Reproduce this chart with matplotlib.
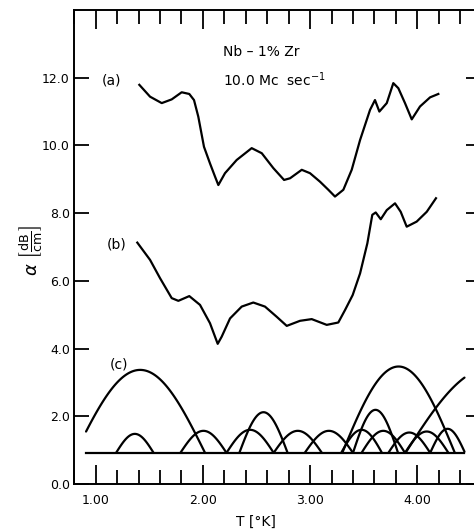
'''Ultrasonic attenuation in Nb-1% Zr at 10.0 Mc/sec, curves (a), (b) and (c).'''
import numpy as np
import matplotlib
matplotlib.use('Agg')
import matplotlib.pyplot as plt
from matplotlib.ticker import MultipleLocator, FormatStrFormatter

# curve (a): T [K], alpha [dB/cm]
a_T = [1.407, 1.507, 1.616, 1.709, 1.802, 1.873, 1.917, 1.957, 2.010, 2.066,
       2.113, 2.144, 2.206, 2.315, 2.455, 2.549, 2.657, 2.757, 2.813, 2.922,
       2.999, 3.092, 3.170, 3.232, 3.310, 3.388, 3.466, 3.559, 3.605, 3.646,
       3.715, 3.776, 3.823, 3.885, 3.948, 4.025, 4.119, 4.196]
a_alpha = [11.79, 11.44, 11.25, 11.36, 11.57, 11.52, 11.34, 10.85, 9.96, 9.47,
           9.08, 8.83, 9.18, 9.57, 9.92, 9.77, 9.33, 8.98, 9.03, 9.28,
           9.18, 8.93, 8.69, 8.49, 8.69, 9.28, 10.16, 11.05, 11.34, 11.00,
           11.25, 11.84, 11.69, 11.25, 10.77, 11.15, 11.42, 11.52]

# curve (b)
b_T = [1.388, 1.507, 1.600, 1.709, 1.771, 1.873, 1.973, 2.066, 2.138, 2.175,
       2.253, 2.362, 2.470, 2.579, 2.688, 2.782, 2.906, 3.015, 3.155, 3.263,
       3.326, 3.397, 3.466, 3.534, 3.580, 3.612, 3.659, 3.715, 3.792, 3.845,
       3.901, 3.994, 4.088, 4.174]
b_alpha = [7.13, 6.62, 6.08, 5.49, 5.41, 5.55, 5.29, 4.75, 4.14, 4.35,
           4.89, 5.24, 5.36, 5.24, 4.94, 4.67, 4.82, 4.87, 4.70, 4.77,
           5.14, 5.58, 6.22, 7.11, 7.95, 8.02, 7.82, 8.09, 8.29, 8.04,
           7.60, 7.75, 8.04, 8.44]

# curve (c): baseline and the arches standing on it (start, end, peak)
c_base = 0.92
c_from, c_to = 0.91, 4.44
arc_start = [0.81, 1.19, 1.79, 2.22, 2.34, 2.66, 2.95, 3.29, 3.30, 3.40,
             3.48, 3.73, 3.885, 3.89, 4.12]
arc_end = [2.02, 1.54, 2.22, 2.66, 2.79, 3.11, 3.40, 3.67, 4.35, 3.82,
           3.885, 4.12, 4.29, 5.49, 4.445]
arc_peak = [3.37, 1.48, 1.57, 1.60, 2.12, 1.57, 1.57, 1.60, 3.47, 2.19,
            1.57, 1.52, 1.55, 3.44, 1.63]

x_ticklabels = ['1.00', '2.00', '3.00', '4.00']

fig = plt.figure(figsize=(4.74, 5.29), dpi=100)
ax = fig.add_axes([74 / 474, 45 / 529, 407 / 474, 474 / 529])

lw = 1.6
ax.plot(a_T, a_alpha, color='black', lw=lw, solid_joinstyle='round')
ax.plot(b_T, b_alpha, color='black', lw=lw, solid_joinstyle='round')

ax.plot([c_from, c_to], [c_base, c_base], color='black', lw=lw)
for s, e, p in zip(arc_start, arc_end, arc_peak):
    xs = np.linspace(max(s, c_from), min(e, c_to), 120)
    ys = c_base + (p - c_base) * np.sin(np.pi * (xs - s) / (e - s))
    ax.plot(xs, ys, color='black', lw=lw, solid_capstyle='round')

ax.set_xlim(0.7976, 4.594)
ax.set_ylim(0, 14.0)

# ticks: inward on all sides, minor every 0.2 in T
ax.xaxis.set_major_locator(MultipleLocator(1.0))
ax.xaxis.set_minor_locator(MultipleLocator(0.2))
ax.set_xticks([1, 2, 3, 4])
ax.set_xticklabels(x_ticklabels)
ax.set_yticks(np.arange(0, 13, 2))
ax.yaxis.set_major_formatter(FormatStrFormatter('%.1f'))
ax.tick_params(axis='both', which='both', direction='in', top=True,
               right=True, width=1.3, labelsize=9, colors='black')
ax.tick_params(axis='x', which='major', length=14, pad=7)
ax.tick_params(axis='x', which='minor', length=10)
ax.tick_params(axis='y', which='major', length=11, pad=3)
for sp in ax.spines.values():
    sp.set_linewidth(1.4)

# labels
ax.text(2.185, 12.77, 'Nb – 1% Zr', fontsize=10, ha='left', va='center')
ax.text(2.185, 11.93, r'10.0 Mc  sec$^{-1}$', fontsize=10, ha='left',
        va='center')
ax.text(1.056, 11.93, '(a)', fontsize=10, ha='left', va='center')
ax.text(1.10, 7.06, '(b)', fontsize=10, ha='left', va='center')
ax.text(1.133, 3.52, '(c)', fontsize=10, ha='left', va='center')

fig.text(256 / 474, 1 - 521.7 / 529, 'T [°K]', fontsize=10,
         ha='center', va='center')
fig.text(31 / 474, 1 - 250 / 529,
         r'$\alpha\ \left[\frac{\mathrm{dB}}{\mathrm{cm}}\right]$',
         fontsize=13, rotation=90, ha='center', va='center')

fig.savefig('out.png', dpi=100)
